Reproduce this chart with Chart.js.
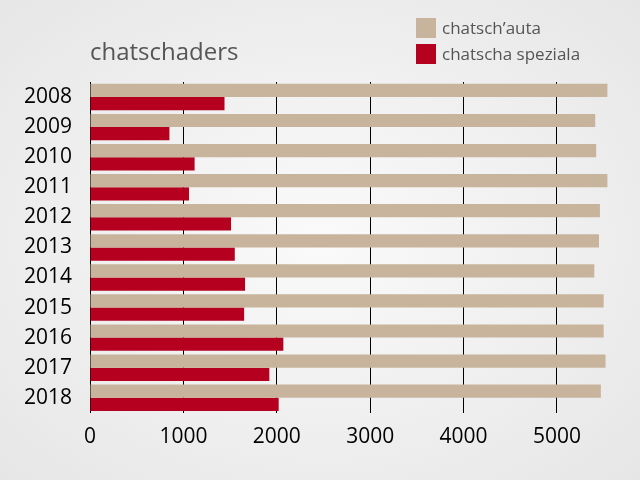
<!DOCTYPE html>
<html>
<head>
<meta charset="utf-8">
<script src="https://cdn.jsdelivr.net/npm/chart.js@4/dist/chart.umd.min.js"></script>
<style>
  body { margin: 0; }
  #wrap { position: relative; width: 640px; height: 480px;
    background: radial-gradient(ellipse at center, #fafafa 0%, #e6e6e6 100%);
    font-family: "Open Sans", sans-serif; }
  #title { position: absolute; left: 90px; top: 34px; font-size: 24px; color: #555; }
  .leg { position: absolute; left: 416px; font-size: 17px; color: #555; display: flex; align-items: center; }
  .leg span { display: inline-block; width: 20px; height: 20px; margin-right: 6px; }
</style>
</head>
<body>
<div id="wrap">
  <canvas id="chart" width="640" height="480"></canvas>
  <div id="title">chatschaders</div>
  <div class="leg" style="top:16px"><span style="background:#c8b49c"></span>chatsch’auta</div>
  <div class="leg" style="top:42px"><span style="background:#b5001f"></span>chatscha speziala</div>
</div>
<script>
const years = ['2008','2009','2010','2011','2012','2013','2014','2015','2016','2017','2018'];
const chatschAuta = [5540, 5410, 5420, 5540, 5460, 5450, 5400, 5500, 5500, 5520, 5470];
const chatschaSpeziala = [1440, 850, 1120, 1060, 1510, 1550, 1660, 1650, 2070, 1920, 2020];
const xTicks = [0, 1000, 2000, 3000, 4000, 5000];

const ctx = document.getElementById('chart').getContext('2d');
new Chart(ctx, {
  type: 'bar',
  data: {
    labels: years,
    datasets: [
      { label: 'chatsch’auta', data: chatschAuta, backgroundColor: '#c8b49c' },
      { label: 'chatscha speziala', data: chatschaSpeziala, backgroundColor: '#b5001f' }
    ]
  },
  options: {
    indexAxis: 'y',
    responsive: false,
    animation: false,
    layout: { padding: { left: 14, right: 27, top: 82, bottom: 18 } },
    datasets: { bar: { categoryPercentage: 0.88, barPercentage: 1 } },
    plugins: { legend: { display: false }, tooltip: { enabled: false } },
    scales: {
      x: {
        min: 0, max: 5600,
        afterBuildTicks: axis => { axis.ticks = xTicks.map(v => ({ value: v })); },
        grid: { color: '#000', lineWidth: 1, drawTicks: false },
        border: { display: false },
        ticks: { color: '#000', font: { size: 21, family: 'Open Sans' }, padding: 12,
          callback: v => String(v) }
      },
      y: {
        grid: { display: false },
        border: { color: '#000', width: 1 },
        ticks: { color: '#000', font: { size: 21, family: 'Open Sans' }, padding: 10 }
      }
    }
  }
});
</script>
</body>
</html>
